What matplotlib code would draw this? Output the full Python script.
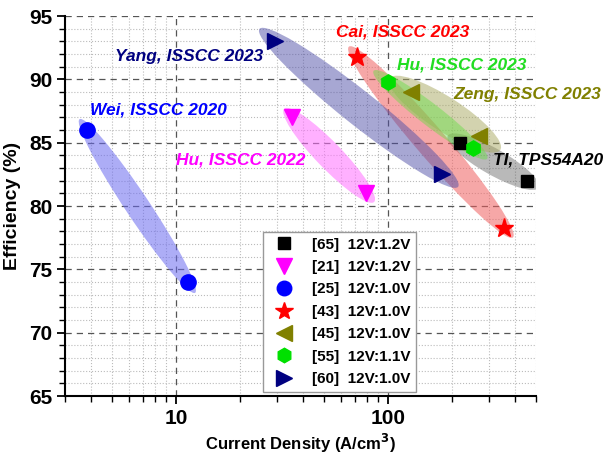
import numpy as np
import matplotlib.pyplot as plt
from matplotlib.patches import Ellipse
from matplotlib.transforms import Affine2D
from matplotlib.ticker import FixedLocator, NullFormatter, MultipleLocator

plt.rcParams['font.family'] = ['Liberation Sans', 'DejaVu Sans']
plt.rcParams['font.weight'] = 'bold'

# each work: two operating points (current density A/cm^3, efficiency %)
refs = ["[65]", "[21]", "[25]", "[43]", "[45]", "[55]", "[60]"]
conv = ["12V:1.2V", "12V:1.2V", "12V:1.0V", "12V:1.0V", "12V:1.0V", "12V:1.1V", "12V:1.0V"]
names = ["TI, TPS54A20", "Hu, ISSCC 2022", "Wei, ISSCC 2020", "Cai, ISSCC 2023",
         "Zeng, ISSCC 2023", "Hu, ISSCC 2023", "Yang, ISSCC 2023"]
dens = [[219, 451], [35.5, 78.7], [3.8, 11.4], [71.8, 355], [128, 270], [100, 252], [29.4, 181]]
eff = [[85.0, 82.0], [87.0, 81.0], [86.0, 74.0], [91.8, 78.3], [89.0, 85.5], [89.8, 84.6], [93.0, 82.5]]

markers = ["s", "v", "o", "*", "<", "h", ">"]
msizes = [9, 12, 11, 14, 12, 11, 12]
colors = ["black", "#ff00ff", "#0000ff", "#ff0000", "#808000", "#00e000", "#000080"]
text_colors = ["black", "#ff00ff", "#0000ff", "#ff0000", "#808000", "#22dd22", "#000080"]
fill_colors = ["#505050", "#ff70ff", "#6a6af0", "#f06060", "#a8a860", "#66dd44", "#5050a8"]
fill_alpha = [0.4, 0.55, 0.55, 0.55, 0.5, 0.45, 0.5]
ell_width = [26, 26, 24, 30, 34, 22, 34]   # px, minor axis
ell_pad = [28, 24, 26, 26, 50, 36, 40]     # px added to major axis
label_pos = [(493, 160), (176, 160), (90, 110), (336, 32), (453, 94), (397, 65), (115, 57)]

XLIM = (3, 500)
YLIM = (65, 95)
W, H = 604, 458
AX = (65, 16, 536, 396)  # left, top, right, bottom in px
AXW = AX[2] - AX[0]
AXH = AX[3] - AX[1]

fig = plt.figure(figsize=(W / 100, H / 100), dpi=100)
ax = fig.add_axes([AX[0] / W, (H - AX[3]) / H, AXW / W, AXH / H])
ax.set_xscale('log')
ax.set_xlim(*XLIM)
ax.set_ylim(*YLIM)


def to_px(x, y):
    lx0, lx1 = np.log10(XLIM[0]), np.log10(XLIM[1])
    return ((np.log10(x) - lx0) / (lx1 - lx0) * AXW, (y - YLIM[0]) / (YLIM[1] - YLIM[0]) * AXH)


px_tr = Affine2D().scale(1 / AXW, 1 / AXH) + ax.transAxes

handles = []
for i in range(len(refs)):
    (x0, y0), (x1, y1) = to_px(dens[i][0], eff[i][0]), to_px(dens[i][1], eff[i][1])
    ang = np.degrees(np.arctan2(y1 - y0, x1 - x0))
    length = np.hypot(x1 - x0, y1 - y0) + ell_pad[i]
    e = Ellipse(((x0 + x1) / 2, (y0 + y1) / 2), length, ell_width[i], angle=ang,
                transform=px_tr, facecolor=fill_colors[i], alpha=fill_alpha[i],
                edgecolor='none', zorder=2)
    ax.add_patch(e)

for i in range(len(refs)):
    h, = ax.plot(dens[i], eff[i], linestyle='none', marker=markers[i], markersize=msizes[i],
                 color=colors[i], markeredgecolor=colors[i], zorder=3,
                 label=f"{refs[i]}  {conv[i]}")
    handles.append(h)
    tx, ty = label_pos[i]
    fig.text(tx / W, 1 - ty / H, names[i], color=text_colors[i], fontsize=12.5,
             fontstyle='italic', fontweight='bold', ha='left', va='center')

# grid
ax.grid(True, which='major', linestyle=(0, (5, 4)), color='#555555', linewidth=0.9)
ax.grid(True, which='minor', linestyle=':', color='#bbbbbb', linewidth=0.8)
ax.set_axisbelow(True)

ax.yaxis.set_major_locator(MultipleLocator(5))
ax.yaxis.set_minor_locator(MultipleLocator(1))
ax.xaxis.set_minor_locator(FixedLocator([3, 4, 5, 6, 7, 8, 9, 20, 30, 40, 50, 60, 70, 80, 90,
                                         200, 300, 400, 500]))
ax.xaxis.set_minor_formatter(NullFormatter())
ax.set_xticks([10, 100])
ax.set_xticklabels(["10", "100"])

for s in ['top', 'right']:
    ax.spines[s].set_visible(False)
for s in ['left', 'bottom']:
    ax.spines[s].set_linewidth(1.5)
ax.tick_params(which='major', direction='out', length=6, width=1.3, labelsize=15, pad=3)
ax.tick_params(which='minor', direction='out', length=4, width=1.0)

ax.set_xlabel("Current Density (A/cm$^\\mathbf{3}$)", fontsize=12, fontweight='bold', labelpad=3)
ax.set_ylabel("Efficiency (%)", fontsize=14, fontweight='bold', labelpad=6)

leg = ax.legend(handles=handles, loc='lower left', bbox_to_anchor=(0.42, 0.01),
                borderaxespad=0, fancybox=False, edgecolor='#999999', framealpha=1,
                fontsize=11, labelspacing=0.55, handletextpad=0.8, borderpad=0.4,
                markerscale=0.95)
leg.get_frame().set_linewidth(1.0)
leg.set_zorder(5)

fig.savefig("out.png", dpi=100)
